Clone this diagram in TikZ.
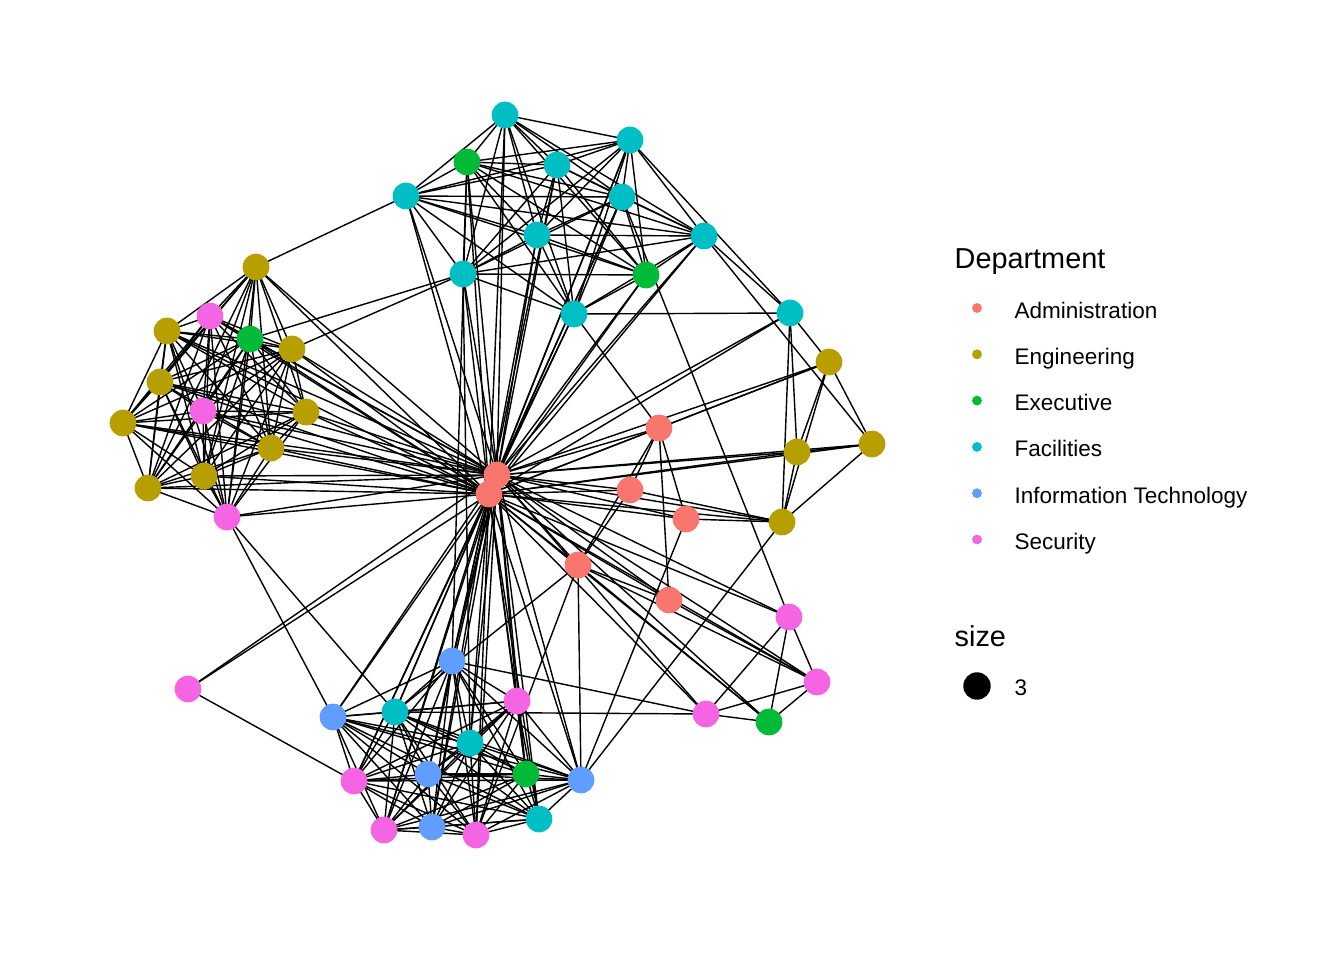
\documentclass[tikz,border=0pt]{standalone}
\usepackage{fontspec}
\setmainfont{Liberation Sans}
\usepackage{tikz}
\usepackage{tkz-euclide}
\usetikzlibrary{positioning}
\definecolor{admin}{HTML}{F8766D}
\definecolor{engin}{HTML}{B79F00}
\definecolor{exec}{HTML}{00BA38}
\definecolor{facil}{HTML}{00BFC4}
\definecolor{infot}{HTML}{619CFF}
\definecolor{secur}{HTML}{F564E3}

\begin{document}
\begin{tikzpicture}[x=0.01cm,y=-0.01cm,
  edge/.style={black,line width=0.4pt},
  keytext/.style={anchor=base west,inner sep=0pt,font=\fontsize{6.4pt}{7pt}\selectfont},
  keytitle/.style={anchor=base west,inner sep=0pt,font=\fontsize{8.2pt}{9pt}\selectfont}]

  \useasboundingbox (0,0) rectangle (1344,960);

  % administration
  \tkzDefPoint(497,475){A1}
  \tkzDefPoint(489,494){A2}
  \tkzDefPoint(659,428){A3}
  \tkzDefPoint(630,490){A4}
  \tkzDefPoint(686,519){A5}
  \tkzDefPoint(578,565){A6}
  \tkzDefPoint(669,600){A7}
  % engineering
  \tkzDefPoint(256,267){G1}
  \tkzDefPoint(167,331){G2}
  \tkzDefPoint(292,349){G3}
  \tkzDefPoint(160,382){G4}
  \tkzDefPoint(306,412){G5}
  \tkzDefPoint(123,423){G6}
  \tkzDefPoint(271,448){G7}
  \tkzDefPoint(204,476){G8}
  \tkzDefPoint(148,488){G9}
  \tkzDefPoint(829,362){G10}
  \tkzDefPoint(872,444){G11}
  \tkzDefPoint(797,452){G12}
  \tkzDefPoint(782,522){G13}
  % executive
  \tkzDefPoint(467,162){E1}
  \tkzDefPoint(646,275){E2}
  \tkzDefPoint(250,339){E3}
  \tkzDefPoint(526,774){E4}
  \tkzDefPoint(769,722){E5}
  % facilities
  \tkzDefPoint(505,115){F1}
  \tkzDefPoint(630,140){F2}
  \tkzDefPoint(557,165){F3}
  \tkzDefPoint(622,197){F4}
  \tkzDefPoint(406,196){F5}
  \tkzDefPoint(537,235){F6}
  \tkzDefPoint(704,236){F7}
  \tkzDefPoint(463,274){F8}
  \tkzDefPoint(574,314){F9}
  \tkzDefPoint(790,313){F10}
  \tkzDefPoint(395,712){F11}
  \tkzDefPoint(470,743){F12}
  \tkzDefPoint(539,819){F13}
  % information technology
  \tkzDefPoint(452,661){I1}
  \tkzDefPoint(333,717){I2}
  \tkzDefPoint(428,774){I3}
  \tkzDefPoint(581,780){I4}
  \tkzDefPoint(432,827){I5}
  % security
  \tkzDefPoint(210,316){S1}
  \tkzDefPoint(203,411){S2}
  \tkzDefPoint(227,517){S3}
  \tkzDefPoint(789,617){S4}
  \tkzDefPoint(817,682){S5}
  \tkzDefPoint(706,714){S6}
  \tkzDefPoint(188,689){S7}
  \tkzDefPoint(517,701){S8}
  \tkzDefPoint(354,781){S9}
  \tkzDefPoint(384,830){S10}
  \tkzDefPoint(476,835){S11}

  \def\topgrp{F1,F2,F3,F4,F5,F6,F7,F8,F9,E1,E2}
  \def\leftgrp{G1,G2,G3,G4,G5,G6,G7,G8,G9,S1,S2,S3,E3}
  \def\lowgrp{I1,I2,I3,I4,I5,F11,F12,F13,E4,S8,S9,S10,S11}
  \def\others{A3,A4,A5,A6,A7,G1,G2,G3,G4,G5,G6,G7,G8,G9,G10,G11,G12,G13,
    E1,E2,E3,E4,E5,F1,F2,F3,F4,F5,F6,F7,F8,F9,F10,F11,F12,F13,
    I1,I2,I3,I4,I5,S1,S2,S3,S4,S5,S6,S7,S8,S9,S10,S11}

  % edges: the two hubs
  \draw[edge] (A1)--(A2);
  \foreach \h in {A1,A2}
    \foreach \p in \others
      \draw[edge] (\h)--(\p);

  % edges: dense groups
  \foreach \a [count=\i] in \topgrp
    \foreach \b [count=\j] in \topgrp
      {\ifnum\j>\i \draw[edge] (\a)--(\b); \fi}
  \foreach \a [count=\i] in \leftgrp
    \foreach \b [count=\j] in \leftgrp
      {\ifnum\j>\i \draw[edge] (\a)--(\b); \fi}
  \foreach \a [count=\i] in \lowgrp
    \foreach \b [count=\j] in \lowgrp
      {\ifnum\j>\i \draw[edge] (\a)--(\b); \fi}

  % edges: the rest
  \tkzDrawSegments[edge](F5,G1 F8,G3 F8,E3 F9,F10 F9,A3 F4,S4 F7,G11
    F7,F10 F2,F10 F8,F12 E1,I1)
  \tkzDrawSegments[edge](F10,G10 F10,G12 F10,G13 G10,G11 G10,G12
    G10,G13 G11,G12 G11,G13 G12,G13 A3,G10)
  \tkzDrawSegments[edge](A3,A4 A3,A5 A3,A6 A3,A7 A4,A6 A6,A7 A4,G13
    A5,G13 A6,S5 A6,E5 A7,S5 A5,I4 A6,I4 A6,S11 A6,F11 G13,I4)
  \tkzDrawSegments[edge](S4,S5 S4,S6 S4,E5 S5,S6 S5,E5 S6,E5 S6,F11
    I1,S6 S7,S9 S3,I2 S3,F11)

  % points
  \foreach \p in {A1,A2,A3,A4,A5,A6,A7}
    \fill[admin] (\p) circle (3.8pt);
  \foreach \p in {G1,G2,G3,G4,G5,G6,G7,G8,G9,G10,G11,G12,G13}
    \fill[engin] (\p) circle (3.8pt);
  \foreach \p in {E1,E2,E3,E4,E5}
    \fill[exec] (\p) circle (3.8pt);
  \foreach \p in {F1,F2,F3,F4,F5,F6,F7,F8,F9,F10,F11,F12,F13}
    \fill[facil] (\p) circle (3.8pt);
  \foreach \p in {I1,I2,I3,I4,I5}
    \fill[infot] (\p) circle (3.8pt);
  \foreach \p in {S1,S2,S3,S4,S5,S6,S7,S8,S9,S10,S11}
    \fill[secur] (\p) circle (3.8pt);

  % legend
  \node[keytitle] (deptkey) at (954,268) {Department};
  \foreach \c/\t [count=\k] in {admin/Administration,engin/Engineering,
      exec/Executive,facil/Facilities,infot/Information Technology,secur/Security}{
    \fill[\c] (977,{308+(\k-1)*46.3}) circle (1.4pt);
    \node[keytext] (key\k) at (1014,{318+(\k-1)*46.3}) {\t};
  }
  \node[keytitle] (sizekey) at (954,646) {size};
  \fill[black] (977,686) circle (3.9pt);
  \node[keytext] (sizethree) at (1014,695) {3};

\end{tikzpicture}
\end{document}
